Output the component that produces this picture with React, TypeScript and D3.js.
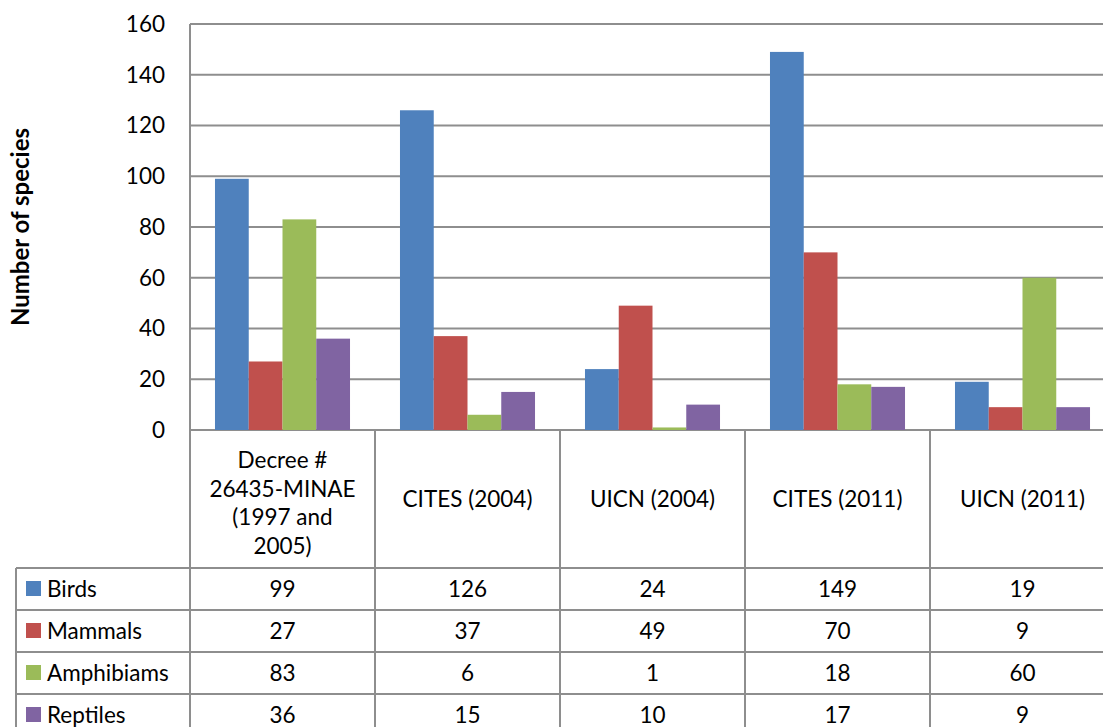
import React, { useEffect, useRef } from "react";
import * as d3 from "d3";

// categories (header cells, already split into lines)
const categories = ["Decree # 26435-MINAE (1997 and 2005)", "CITES (2004)", "UICN (2004)", "CITES (2011)", "UICN (2011)"];
const categoryLines = [["Decree #", "26435-MINAE", "(1997 and", "2005)"], ["CITES (2004)"], ["UICN (2004)"], ["CITES (2011)"], ["UICN (2011)"]];

const seriesNames = ["Birds", "Mammals", "Amphibiams", "Reptiles"];
const seriesColors = ["#4F81BD", "#C0504D", "#9BBB59", "#8064A2"];

const birds = [99, 126, 24, 149, 19];
const mammals = [27, 37, 49, 70, 9];
const amphibians = [83, 6, 1, 18, 60];
const reptiles = [36, 15, 10, 17, 9];

const yTicks = [0, 20, 40, 60, 80, 100, 120, 140, 160];

const W = 1103;
const H = 727;
const FONT = "Lato, 'Open Sans', sans-serif";
const FS = "22.5px";

const App: React.FC = () => {
  const svgRef = useRef<SVGSVGElement>(null);

  useEffect(() => {
    if (!svgRef.current) return;
    const svg = d3.select(svgRef.current);
    svg.selectAll("*").remove();

    const values = [birds, mammals, amphibians, reptiles];
    const left = 190;
    const right = 1115;
    const top = 24;
    const zero = 430;
    const headerBottom = 568;
    const rowH = 42;
    const legendLeft = 16;
    const lineColor = "#8e8e8e";

    const x = d3.scaleBand<string>().domain(categories).range([left, right]).padding(0);
    const xs = d3
      .scaleBand<string>()
      .domain(seriesNames)
      .range([0, x.bandwidth()])
      .paddingInner(0)
      .paddingOuter(0.74);
    const y = d3.scaleLinear().domain([0, 160]).range([zero, top]);

    // gridlines
    svg
      .append("g")
      .selectAll("line")
      .data(yTicks)
      .enter()
      .append("line")
      .attr("x1", left)
      .attr("x2", W)
      .attr("y1", (d) => y(d))
      .attr("y2", (d) => y(d))
      .attr("stroke", lineColor)
      .attr("stroke-width", 2);

    // tick labels
    svg
      .append("g")
      .selectAll("text")
      .data(yTicks)
      .enter()
      .append("text")
      .attr("x", 165)
      .attr("y", (d) => y(d))
      .attr("dy", "0.35em")
      .attr("text-anchor", "end")
      .style("font-family", FONT)
      .style("font-size", FS)
      .style("fill", "#000")
      .text((d) => d);

    // y axis title
    svg
      .append("text")
      .attr("transform", `translate(29, ${(top + zero) / 2}) rotate(-90)`)
      .attr("text-anchor", "middle")
      .style("font-family", FONT)
      .style("font-size", "24px")
      .style("font-weight", "bold")
      .text("Number of species");

    // bars
    seriesNames.forEach((s, si) => {
      svg
        .append("g")
        .selectAll("rect")
        .data(values[si])
        .enter()
        .append("rect")
        .attr("x", (d, i) => (x(categories[i]) as number) + (xs(s) as number))
        .attr("width", xs.bandwidth())
        .attr("y", (d) => y(d))
        .attr("height", (d) => zero - y(d))
        .attr("fill", seriesColors[si]);
    });

    // table grid
    const grid = svg.append("g").attr("stroke", lineColor).attr("stroke-width", 2);
    const colEdges = categories.map((c) => x(c) as number).concat([right]);
    colEdges.forEach((cx) => {
      grid.append("line").attr("x1", cx).attr("x2", cx).attr("y1", zero).attr("y2", H);
    });
    grid.append("line").attr("x1", legendLeft).attr("x2", legendLeft).attr("y1", headerBottom).attr("y2", H);
    seriesNames.forEach((s, i) => {
      const ry = headerBottom + i * rowH;
      grid.append("line").attr("x1", legendLeft).attr("x2", W).attr("y1", ry).attr("y2", ry);
    });
    // y axis line
    grid.append("line").attr("x1", left).attr("x2", left).attr("y1", top).attr("y2", zero);

    // header labels
    const lh = 28.7;
    categories.forEach((c, i) => {
      const lines = categoryLines[i];
      const cx = (x(c) as number) + x.bandwidth() / 2;
      const cy = lines.length > 1 ? 503 : 499;
      const t = svg
        .append("text")
        .attr("text-anchor", "middle")
        .style("font-family", FONT)
        .style("font-size", FS);
      lines.forEach((l, li) => {
        t.append("tspan")
          .attr("x", cx)
          .attr("y", cy + (li - (lines.length - 1) / 2) * lh)
          .attr("dy", "0.35em")
          .text(l);
      });
    });

    // data rows
    seriesNames.forEach((s, si) => {
      const cy = headerBottom + si * rowH + rowH / 2;
      svg
        .append("rect")
        .attr("x", 26)
        .attr("y", cy - 8)
        .attr("width", 15)
        .attr("height", 15)
        .attr("fill", seriesColors[si]);
      svg
        .append("text")
        .attr("x", 47)
        .attr("y", cy)
        .attr("dy", "0.35em")
        .style("font-family", FONT)
        .style("font-size", FS)
        .text(s);
      values[si].forEach((v, ci) => {
        svg
          .append("text")
          .attr("x", (x(categories[ci]) as number) + x.bandwidth() / 2)
          .attr("y", cy)
          .attr("dy", "0.35em")
          .attr("text-anchor", "middle")
          .style("font-family", FONT)
          .style("font-size", FS)
          .text(v);
      });
    });
  }, []);

  return (
    <svg
      ref={svgRef}
      width={W}
      height={H}
      style={{ position: "absolute", left: 0, top: 0, display: "block", background: "#fff" }}
    />
  );
};

export default App;
